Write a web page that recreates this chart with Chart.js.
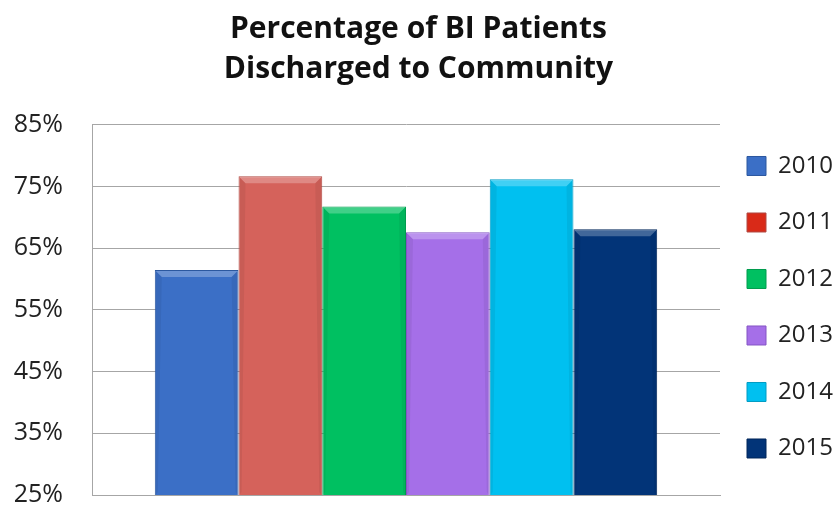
<!DOCTYPE html>
<html>
<head>
<meta charset="utf-8">
<script src="https://cdn.jsdelivr.net/npm/chart.js@4"></script>
<style>
  html, body { margin: 0; padding: 0; background: #fff; }
  #wrap { width: 837px; height: 512px; }
</style>
</head>
<body>
<div id="wrap"><canvas id="chart"></canvas></div>
<script>
// data
const years = ["2010", "2011", "2012", "2013", "2014", "2015"];
const discharged = [61.5, 76.7, 71.8, 67.6, 76.2, 68.1];
const yTicks = [25, 35, 45, 55, 65, 75, 85];

const barColors = ["#3b6fc6", "#d5625b", "#00c061", "#a56fe8", "#00c0f0", "#023478"];
const borderColors = ["#2c589f", "#b04943", "#009c4e", "#8455c4", "#009cc4", "#01265a"];
const legendColors = ["#3b6fc6", "#d92a18", "#00c061", "#a56fe8", "#00c0f0", "#023478"];

const datasets = years.map((y, i) => ({
  label: y,
  data: [discharged[i]],
  backgroundColor: barColors[i],
  borderColor: borderColors[i],
  borderWidth: 1,
  categoryPercentage: 0.8,
  barPercentage: 1.0,
}));

// soft bevel like the office chart: lighter top edge, slightly darker sides
const bevel = {
  id: "bevel",
  afterDatasetsDraw(chart) {
    const ctx = chart.ctx;
    const bottom = chart.chartArea.bottom;
    chart.data.datasets.forEach((ds, i) => {
      chart.getDatasetMeta(i).data.forEach((bar) => {
        const { x, y, width, base } = bar.getProps(["x", "y", "width", "base"], true);
        const b = Math.min(base, bottom);
        const l = x - width / 2, r = x + width / 2, d = 7;
        ctx.save();
        ctx.fillStyle = "rgba(255,255,255,0.25)";
        ctx.beginPath();
        ctx.moveTo(l + 1, y + 1);
        ctx.lineTo(r - 1, y + 1);
        ctx.lineTo(r - d, y + d);
        ctx.lineTo(l + d, y + d);
        ctx.closePath();
        ctx.fill();
        ctx.fillStyle = "rgba(0,0,0,0.06)";
        [[l + 1, l + d, l + 3], [r - 1, r - d, r - 3]].forEach(([a, c, e]) => {
          ctx.beginPath();
          ctx.moveTo(a, y + 1);
          ctx.lineTo(c, y + d);
          ctx.lineTo(e, b - 3);
          ctx.lineTo(a, b);
          ctx.closePath();
          ctx.fill();
        });
        ctx.restore();
      });
    });
  },
};

new Chart(document.getElementById("chart"), {
  type: "bar",
  data: { labels: [""], datasets },
  plugins: [bevel],
  options: {
    responsive: true,
    maintainAspectRatio: false,
    animation: false,
    layout: { padding: 0 },
    plugins: {
      title: {
        display: true,
        text: ["Percentage of BI Patients", "Discharged to Community"],
        color: "#111",
        font: { family: "Open Sans", size: 30, weight: "bold", lineHeight: 1.333 },
        padding: { top: 9, bottom: 36 },
      },
      legend: {
        position: "right",
        fullSize: false,
        maxWidth: 117,
        labels: {
          color: "#222",
          font: { family: "Open Sans", size: 24, lineHeight: "29.5px" },
          boxWidth: 19,
          boxHeight: 19,
          padding: 27,
          generateLabels: (chart) =>
            Chart.defaults.plugins.legend.labels.generateLabels(chart).map((l, i) => ({
              ...l,
              text: [l.text],
              fillStyle: legendColors[i],
              strokeStyle: borderColors[i],
              lineWidth: 1,
            })),
        },
      },
      tooltip: { enabled: false },
    },
    scales: {
      x: {
        ticks: { display: false },
        grid: { display: false, drawTicks: false },
        border: { color: "#a6a6a6" },
      },
      y: {
        min: yTicks[0],
        max: yTicks[yTicks.length - 1],
        afterBuildTicks: (axis) => { axis.ticks = yTicks.map((v) => ({ value: v })); },
        afterFit: (axis) => {
          axis.width = 92;
          axis.paddingTop = 15;
          axis.paddingBottom = 17;
        },
        ticks: {
          color: "#222",
          font: { family: "Open Sans", size: 25 },
          padding: 29,
          callback: (v) => v + "%",
        },
        grid: { color: "#a6a6a6", drawTicks: false },
        border: { color: "#a6a6a6" },
      },
    },
  },
});
</script>
</body>
</html>
